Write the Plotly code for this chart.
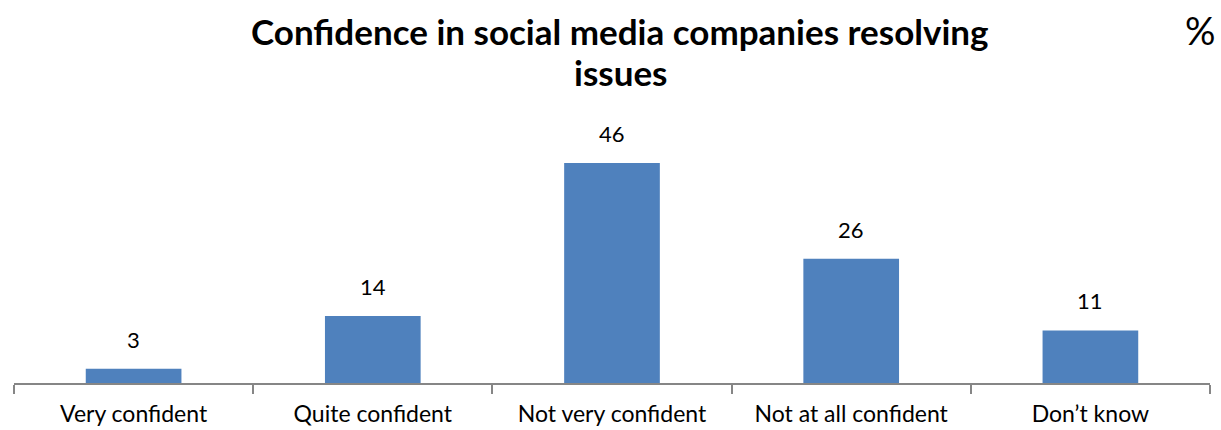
import plotly.graph_objects as go

categories = ["Very confident", "Quite confident", "Not very confident", "Not at all confident", "Don\u2019t know"]
values = [3, 14, 46, 26, 11]

title_lines = ["Confidence in social media companies resolving", "issues"]

FONT = "Lato"
BLUE = "#4F81BD"
AXIS = "#868686"

W, H = 1221, 430
M_L, M_R, M_T, M_B = 14, 11, 96, 47
PLOT_W = W - M_L - M_R
PLOT_H = H - M_T - M_B


def paper_x(px):
    """Convert a pixel column to paper x."""
    return (px - M_L) / PLOT_W


def paper_y(py):
    """Convert a pixel row (from the top of the page) to paper y."""
    return (H - M_B - py) / PLOT_H


fig = go.Figure(
    go.Bar(
        x=categories,
        y=values,
        marker=dict(color=BLUE, line=dict(width=0)),
        width=0.4,
        cliponaxis=False,
        hoverinfo="x+y",
    )
)

# value labels above each bar
for cat, val in zip(categories, values):
    fig.add_annotation(
        x=cat, y=val, xref="x", yref="y",
        text=str(val),
        showarrow=False,
        xanchor="center", yanchor="bottom",
        yshift=14,
        font=dict(family=FONT, size=22, color="#000000"),
    )

fig.update_layout(
    width=W,
    height=H,
    margin=dict(l=M_L, r=M_R, t=M_T, b=M_B, autoexpand=False),
    paper_bgcolor="white",
    plot_bgcolor="white",
    showlegend=False,
)

fig.update_xaxes(
    type="category",
    automargin=False,
    showline=True,
    linecolor=AXIS,
    linewidth=1.5,
    ticks="outside",
    tickson="boundaries",
    ticklen=9,
    tickcolor=AXIS,
    tickwidth=1.5,
    ticklabelstandoff=10,
    tickfont=dict(family=FONT, size=23, color="#000000"),
    showgrid=False,
    range=[-0.5, 4.5],
)
fig.update_yaxes(range=[0, 60], visible=False, showgrid=False, automargin=False)

# two-line bold title
for text, py in zip(title_lines, [31, 72]):
    fig.add_annotation(
        text=f"<b>{text}</b>",
        xref="paper", yref="paper",
        x=paper_x(620), y=paper_y(py),
        xanchor="center", yanchor="middle",
        showarrow=False,
        font=dict(family=FONT, size=35, color="#000000"),
    )

fig.add_annotation(
    text="%",
    xref="paper", yref="paper",
    x=paper_x(1217), y=paper_y(30),
    xanchor="right", yanchor="middle",
    showarrow=False,
    font=dict(family=FONT, size=38, color="#000000"),
)

fig.write_html("out.html")
